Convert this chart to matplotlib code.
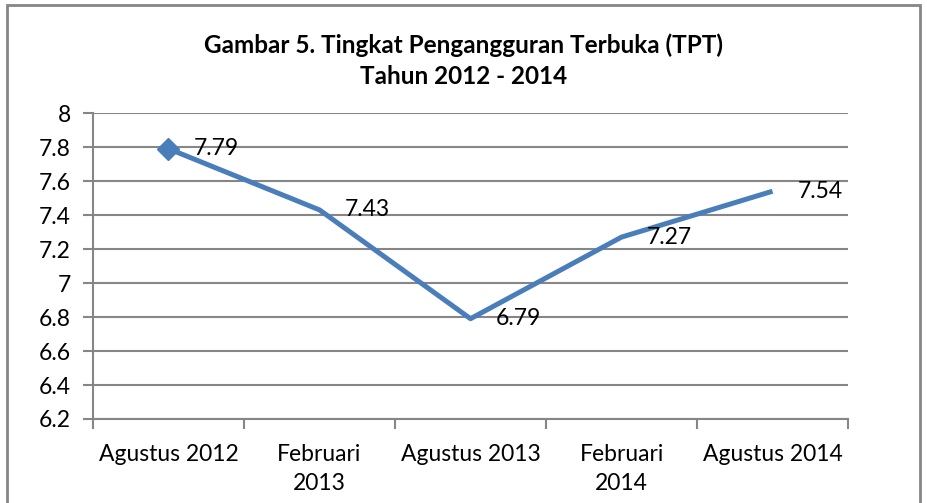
import numpy as np
import matplotlib
matplotlib.use('Agg')
import matplotlib.pyplot as plt
from matplotlib.patches import Rectangle

# Data TPT (persen)
periode = ['Agustus 2012', 'Februari\n2013', 'Agustus 2013', 'Februari\n2014', 'Agustus 2014']
tpt = [7.79, 7.43, 6.79, 7.27, 7.54]
y_ticks = [6.2, 6.4, 6.6, 6.8, 7, 7.2, 7.4, 7.6, 7.8, 8]
y_labels = ['6.2', '6.4', '6.6', '6.8', '7', '7.2', '7.4', '7.6', '7.8', '8']

plt.rcParams['font.family'] = ['Lato', 'DejaVu Sans']

fig = plt.figure(figsize=(9.27, 5.03), dpi=100)
ax = fig.add_axes([0.1003, 0.167, 0.8145, 0.6083])

grid_col = '#868686'
line_col = '#4A7EBB'

x = np.arange(len(periode))
ax.plot(x, tpt, color=line_col, lw=3.6, solid_capstyle='butt', zorder=3)
ax.plot(x[0], tpt[0], marker='D', ms=11, color=line_col, zorder=4)

for xi, v in zip(x, tpt):
    ax.annotate('%.2f' % v, (xi, v), xytext=(18, 0), textcoords='offset points',
                ha='left', va='center', fontsize=16.5, color='black', zorder=5)

ax.set_xlim(-0.5, len(periode) - 0.5)
ax.set_ylim(6.2, 8)
ax.set_yticks(y_ticks)
ax.set_yticklabels(y_labels, fontsize=16.5)
ax.set_xticks(x)
ax.set_xticklabels(periode, fontsize=16.5, linespacing=1.45)
ax.set_xticks(np.arange(len(periode) + 1) - 0.5, minor=True)
ax.tick_params(axis='x', which='major', length=0, pad=18)
ax.tick_params(axis='x', which='minor', length=7, width=1.5, color=grid_col)
ax.tick_params(axis='y', length=7, width=1.5, color=grid_col, pad=9)

ax.yaxis.grid(True, color=grid_col, lw=1.5)
ax.set_axisbelow(True)
for s in ['top', 'right']:
    ax.spines[s].set_visible(False)
for s in ['left', 'bottom']:
    ax.spines[s].set_color(grid_col)
    ax.spines[s].set_linewidth(1.5)

fig.text(0.5, 0.879, 'Gambar 5. Tingkat Pengangguran Terbuka (TPT)\nTahun 2012 - 2014',
         ha='center', va='center', fontsize=17.5, fontweight='bold', linespacing=1.4)

# bingkai grafik
fig.patches.append(Rectangle((7 / 927, -0.05), 913 / 927, 1 - 5 / 503 + 0.05,
                             transform=fig.transFigure, fill=False,
                             edgecolor=grid_col, lw=2))

fig.savefig('out.png', dpi=100)
